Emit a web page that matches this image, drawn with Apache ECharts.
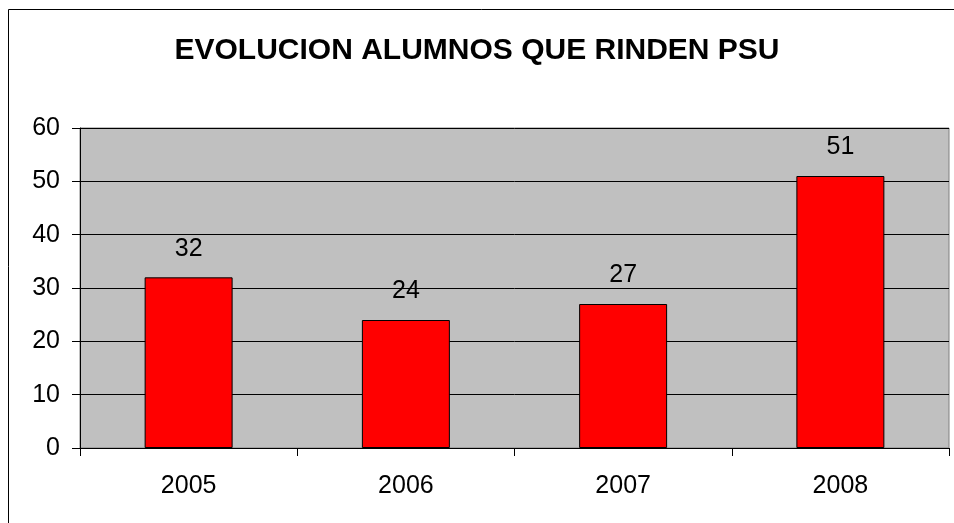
<!DOCTYPE html>
<html>
<head>
<meta charset="utf-8">
<script src="https://cdn.jsdelivr.net/npm/echarts@6/dist/echarts.min.js"></script>
<style>
  html, body { margin: 0; padding: 0; background: #fff; }
  #chart { width: 954px; height: 523px; }
</style>
</head>
<body>
<div id="chart"></div>
<script>
// datos del grafico
const years = ['2005', '2006', '2007', '2008']
const alumnos = [32, 24, 27, 51]

const chart = echarts.init(document.getElementById('chart'))

chart.setOption({
  animation: false,
  textStyle: { fontFamily: 'Liberation Sans, Arial, sans-serif' },
  title: {
    text: 'EVOLUCION ALUMNOS QUE RINDEN PSU',
    left: 'center',
    top: 31,
    textStyle: { fontSize: 30, fontWeight: 'bold', color: '#000', fontFamily: 'Liberation Sans, Arial, sans-serif' }
  },
  graphic: [{
    type: 'rect',
    shape: { x: 8.5, y: 9.5, width: 1000, height: 1000 },
    style: { fill: 'none', stroke: '#000', lineWidth: 1 },
    silent: true
  }],
  grid: {
    left: 80,
    right: 5,
    top: 128,
    bottom: 75,
    show: true,
    backgroundColor: '#C0C0C0',
    borderColor: '#808080',
    borderWidth: 1
  },
  xAxis: {
    type: 'category',
    data: years,
    axisLine: { lineStyle: { color: '#000', width: 1 } },
    axisTick: { show: true, length: 8, lineStyle: { color: '#000' } },
    axisLabel: { fontSize: 25, color: '#000', margin: 26 }
  },
  yAxis: {
    type: 'value',
    min: 0,
    max: 60,
    interval: 10,
    axisLine: { show: true, lineStyle: { color: '#000', width: 1 } },
    axisTick: { show: true, length: 8, lineStyle: { color: '#000' } },
    axisLabel: { fontSize: 25, color: '#000', margin: 20 },
    splitLine: { lineStyle: { color: '#000', width: 1 } }
  },
  series: [{
    type: 'bar',
    data: alumnos,
    barWidth: '40.5%',
    itemStyle: { color: '#FF0000', borderColor: '#000', borderWidth: 1 },
    label: {
      show: true,
      position: 'top',
      distance: 16,
      fontSize: 25,
      color: '#000'
    }
  }]
})
</script>
</body>
</html>
